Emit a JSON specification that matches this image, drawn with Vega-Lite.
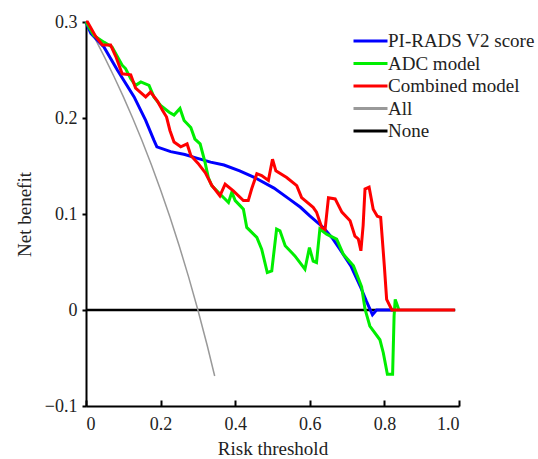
{
  "$schema": "https://vega.github.io/schema/vega-lite/v6.json",
  "autosize": "none",
  "width": 373,
  "height": 384,
  "padding": {"left": 86, "top": 22, "right": 79, "bottom": 53},
  "background": "white",
  "config": {
    "view": {"stroke": null},
    "font": "Liberation Serif",
    "axis": {
      "grid": false,
      "domainColor": "#000000",
      "domainWidth": 2,
      "tickColor": "#000000",
      "tickWidth": 2,
      "labelFont": "Liberation Serif",
      "labelFontSize": 18,
      "labelColor": "#222222",
      "titleFont": "Liberation Serif",
      "titleFontSize": 19,
      "titleFontWeight": "normal",
      "titleColor": "#222222"
    },
    "legend": {
      "orient": "none",
      "legendX": 274.5,
      "legendY": 9,
      "padding": 0,
      "symbolType": "M-2,0H2",
      "symbolSize": 289,
      "symbolStrokeWidth": 3,
      "labelFont": "Liberation Serif",
      "labelFontSize": 19,
      "labelColor": "#222222",
      "labelOffset": 7.5,
      "rowPadding": 2.5,
      "labelLimit": 300
    }
  },
  "data": {
    "values": [
      {"m": "None", "x": 0, "y": 0},
      {"m": "None", "x": 0.99, "y": 0},
      {"m": "All", "x": 0, "y": 0.3},
      {"m": "All", "x": 0.025, "y": 0.2821},
      {"m": "All", "x": 0.05, "y": 0.2632},
      {"m": "All", "x": 0.075, "y": 0.2432},
      {"m": "All", "x": 0.1, "y": 0.2222},
      {"m": "All", "x": 0.125, "y": 0.2},
      {"m": "All", "x": 0.15, "y": 0.1765},
      {"m": "All", "x": 0.175, "y": 0.1515},
      {"m": "All", "x": 0.2, "y": 0.125},
      {"m": "All", "x": 0.225, "y": 0.0968},
      {"m": "All", "x": 0.25, "y": 0.0667},
      {"m": "All", "x": 0.275, "y": 0.0345},
      {"m": "All", "x": 0.3, "y": 0},
      {"m": "All", "x": 0.325, "y": -0.037},
      {"m": "All", "x": 0.345, "y": -0.0687},
      {"m": "PI-RADS V2 score", "x": 0, "y": 0.3},
      {"m": "PI-RADS V2 score", "x": 0.013, "y": 0.288},
      {"m": "PI-RADS V2 score", "x": 0.048, "y": 0.274},
      {"m": "PI-RADS V2 score", "x": 0.084, "y": 0.25},
      {"m": "PI-RADS V2 score", "x": 0.129, "y": 0.222},
      {"m": "PI-RADS V2 score", "x": 0.16, "y": 0.1975},
      {"m": "PI-RADS V2 score", "x": 0.182, "y": 0.177},
      {"m": "PI-RADS V2 score", "x": 0.19, "y": 0.17},
      {"m": "PI-RADS V2 score", "x": 0.227, "y": 0.165},
      {"m": "PI-RADS V2 score", "x": 0.265, "y": 0.162},
      {"m": "PI-RADS V2 score", "x": 0.29, "y": 0.159},
      {"m": "PI-RADS V2 score", "x": 0.334, "y": 0.154},
      {"m": "PI-RADS V2 score", "x": 0.37, "y": 0.151},
      {"m": "PI-RADS V2 score", "x": 0.412, "y": 0.145},
      {"m": "PI-RADS V2 score", "x": 0.457, "y": 0.137},
      {"m": "PI-RADS V2 score", "x": 0.504, "y": 0.127},
      {"m": "PI-RADS V2 score", "x": 0.547, "y": 0.115},
      {"m": "PI-RADS V2 score", "x": 0.575, "y": 0.107},
      {"m": "PI-RADS V2 score", "x": 0.6, "y": 0.098},
      {"m": "PI-RADS V2 score", "x": 0.636, "y": 0.086},
      {"m": "PI-RADS V2 score", "x": 0.66, "y": 0.075},
      {"m": "PI-RADS V2 score", "x": 0.681, "y": 0.063},
      {"m": "PI-RADS V2 score", "x": 0.71, "y": 0.046},
      {"m": "PI-RADS V2 score", "x": 0.735, "y": 0.025},
      {"m": "PI-RADS V2 score", "x": 0.752, "y": 0.009},
      {"m": "PI-RADS V2 score", "x": 0.768, "y": -0.005},
      {"m": "PI-RADS V2 score", "x": 0.779, "y": 0},
      {"m": "PI-RADS V2 score", "x": 0.83, "y": 0},
      {"m": "ADC model", "x": 0, "y": 0.3},
      {"m": "ADC model", "x": 0.021, "y": 0.286},
      {"m": "ADC model", "x": 0.048, "y": 0.279},
      {"m": "ADC model", "x": 0.07, "y": 0.274},
      {"m": "ADC model", "x": 0.084, "y": 0.264},
      {"m": "ADC model", "x": 0.097, "y": 0.255},
      {"m": "ADC model", "x": 0.106, "y": 0.2515},
      {"m": "ADC model", "x": 0.12, "y": 0.241},
      {"m": "ADC model", "x": 0.133, "y": 0.234},
      {"m": "ADC model", "x": 0.147, "y": 0.2376},
      {"m": "ADC model", "x": 0.169, "y": 0.234},
      {"m": "ADC model", "x": 0.182, "y": 0.222},
      {"m": "ADC model", "x": 0.2, "y": 0.213},
      {"m": "ADC model", "x": 0.223, "y": 0.206},
      {"m": "ADC model", "x": 0.236, "y": 0.203},
      {"m": "ADC model", "x": 0.252, "y": 0.21},
      {"m": "ADC model", "x": 0.263, "y": 0.1975},
      {"m": "ADC model", "x": 0.281, "y": 0.19},
      {"m": "ADC model", "x": 0.292, "y": 0.178},
      {"m": "ADC model", "x": 0.306, "y": 0.173},
      {"m": "ADC model", "x": 0.319, "y": 0.154},
      {"m": "ADC model", "x": 0.328, "y": 0.138},
      {"m": "ADC model", "x": 0.337, "y": 0.1296},
      {"m": "ADC model", "x": 0.364, "y": 0.119},
      {"m": "ADC model", "x": 0.382, "y": 0.112},
      {"m": "ADC model", "x": 0.391, "y": 0.1227},
      {"m": "ADC model", "x": 0.4, "y": 0.114},
      {"m": "ADC model", "x": 0.413, "y": 0.1087},
      {"m": "ADC model", "x": 0.422, "y": 0.105},
      {"m": "ADC model", "x": 0.431, "y": 0.086},
      {"m": "ADC model", "x": 0.458, "y": 0.0757},
      {"m": "ADC model", "x": 0.471, "y": 0.0634},
      {"m": "ADC model", "x": 0.486, "y": 0.039},
      {"m": "ADC model", "x": 0.498, "y": 0.0408},
      {"m": "ADC model", "x": 0.511, "y": 0.0843},
      {"m": "ADC model", "x": 0.52, "y": 0.0825},
      {"m": "ADC model", "x": 0.534, "y": 0.0669},
      {"m": "ADC model", "x": 0.56, "y": 0.0564},
      {"m": "ADC model", "x": 0.587, "y": 0.0425},
      {"m": "ADC model", "x": 0.599, "y": 0.065},
      {"m": "ADC model", "x": 0.609, "y": 0.051},
      {"m": "ADC model", "x": 0.618, "y": 0.0495},
      {"m": "ADC model", "x": 0.627, "y": 0.0843},
      {"m": "ADC model", "x": 0.645, "y": 0.079},
      {"m": "ADC model", "x": 0.672, "y": 0.0739},
      {"m": "ADC model", "x": 0.69, "y": 0.058},
      {"m": "ADC model", "x": 0.717, "y": 0.046},
      {"m": "ADC model", "x": 0.739, "y": 0.024},
      {"m": "ADC model", "x": 0.748, "y": 0.001},
      {"m": "ADC model", "x": 0.761, "y": -0.0167},
      {"m": "ADC model", "x": 0.788, "y": -0.031},
      {"m": "ADC model", "x": 0.797, "y": -0.0445},
      {"m": "ADC model", "x": 0.808, "y": -0.067},
      {"m": "ADC model", "x": 0.822, "y": -0.067},
      {"m": "ADC model", "x": 0.826, "y": -0.006},
      {"m": "ADC model", "x": 0.829, "y": 0.011},
      {"m": "ADC model", "x": 0.839, "y": 0},
      {"m": "Combined model", "x": 0, "y": 0.3},
      {"m": "Combined model", "x": 0.004, "y": 0.3},
      {"m": "Combined model", "x": 0.026, "y": 0.285},
      {"m": "Combined model", "x": 0.044, "y": 0.276},
      {"m": "Combined model", "x": 0.066, "y": 0.276},
      {"m": "Combined model", "x": 0.08, "y": 0.264},
      {"m": "Combined model", "x": 0.097, "y": 0.246},
      {"m": "Combined model", "x": 0.12, "y": 0.245},
      {"m": "Combined model", "x": 0.133, "y": 0.231},
      {"m": "Combined model", "x": 0.16, "y": 0.222},
      {"m": "Combined model", "x": 0.173, "y": 0.227},
      {"m": "Combined model", "x": 0.191, "y": 0.218},
      {"m": "Combined model", "x": 0.205, "y": 0.208},
      {"m": "Combined model", "x": 0.216, "y": 0.201},
      {"m": "Combined model", "x": 0.225, "y": 0.187},
      {"m": "Combined model", "x": 0.236, "y": 0.175},
      {"m": "Combined model", "x": 0.254, "y": 0.17},
      {"m": "Combined model", "x": 0.271, "y": 0.173},
      {"m": "Combined model", "x": 0.281, "y": 0.161},
      {"m": "Combined model", "x": 0.3, "y": 0.153},
      {"m": "Combined model", "x": 0.32, "y": 0.143},
      {"m": "Combined model", "x": 0.337, "y": 0.13},
      {"m": "Combined model", "x": 0.359, "y": 0.119},
      {"m": "Combined model", "x": 0.373, "y": 0.131},
      {"m": "Combined model", "x": 0.395, "y": 0.124},
      {"m": "Combined model", "x": 0.422, "y": 0.114},
      {"m": "Combined model", "x": 0.435, "y": 0.114},
      {"m": "Combined model", "x": 0.444, "y": 0.126},
      {"m": "Combined model", "x": 0.458, "y": 0.142},
      {"m": "Combined model", "x": 0.471, "y": 0.14},
      {"m": "Combined model", "x": 0.489, "y": 0.135},
      {"m": "Combined model", "x": 0.5, "y": 0.157},
      {"m": "Combined model", "x": 0.509, "y": 0.145},
      {"m": "Combined model", "x": 0.538, "y": 0.138},
      {"m": "Combined model", "x": 0.565, "y": 0.1296},
      {"m": "Combined model", "x": 0.578, "y": 0.117},
      {"m": "Combined model", "x": 0.609, "y": 0.107},
      {"m": "Combined model", "x": 0.618, "y": 0.102},
      {"m": "Combined model", "x": 0.632, "y": 0.086},
      {"m": "Combined model", "x": 0.641, "y": 0.084},
      {"m": "Combined model", "x": 0.65, "y": 0.117},
      {"m": "Combined model", "x": 0.668, "y": 0.1157},
      {"m": "Combined model", "x": 0.686, "y": 0.102},
      {"m": "Combined model", "x": 0.708, "y": 0.093},
      {"m": "Combined model", "x": 0.721, "y": 0.077},
      {"m": "Combined model", "x": 0.73, "y": 0.074},
      {"m": "Combined model", "x": 0.737, "y": 0.0617},
      {"m": "Combined model", "x": 0.743, "y": 0.088},
      {"m": "Combined model", "x": 0.748, "y": 0.126},
      {"m": "Combined model", "x": 0.759, "y": 0.128},
      {"m": "Combined model", "x": 0.77, "y": 0.105},
      {"m": "Combined model", "x": 0.781, "y": 0.0976},
      {"m": "Combined model", "x": 0.79, "y": 0.0965},
      {"m": "Combined model", "x": 0.8, "y": 0.045},
      {"m": "Combined model", "x": 0.806, "y": 0.011},
      {"m": "Combined model", "x": 0.82, "y": 0},
      {"m": "Combined model", "x": 0.989, "y": 0}
    ]
  },
  "encoding": {
    "x": {
      "field": "x",
      "type": "quantitative",
      "scale": {"domain": [0, 1], "nice": false, "zero": false},
      "axis": {
        "title": "Risk threshold",
        "values": [0, 0.2, 0.4, 0.6, 0.8, 1.0],
        "labelExpr": "datum.value == 0 ? '0' : format(datum.value, '.1f')",
        "tickSize": -6,
        "labelPadding": 15,
        "titlePadding": 6
      }
    },
    "y": {
      "field": "y",
      "type": "quantitative",
      "scale": {"domain": [-0.1, 0.3], "nice": false, "zero": false},
      "axis": {
        "title": "Net benefit",
        "values": [-0.1, 0, 0.1, 0.2, 0.3],
        "labelExpr": "datum.value == 0 ? '0' : (datum.value < 0 ? '\u22120.1' : format(datum.value, '.1f'))",
        "tickSize": 4,
        "labelPadding": 5,
        "titlePadding": 10
      }
    },
    "color": {
      "field": "m",
      "type": "nominal",
      "scale": {
        "domain": ["PI-RADS V2 score", "ADC model", "Combined model", "All", "None"],
        "range": ["#0000ff", "#00ee00", "#ff0000", "#999999", "#000000"]
      },
      "legend": {"title": null}
    }
  },
  "layer": [
    {"transform": [{"filter": "datum.m == 'None'"}], "mark": {"type": "line", "strokeWidth": 2.5}},
    {"transform": [{"filter": "datum.m == 'All'"}], "mark": {"type": "line", "strokeWidth": 1.5}},
    {"transform": [{"filter": "datum.m == 'PI-RADS V2 score'"}], "mark": {"type": "line", "strokeWidth": 3}},
    {"transform": [{"filter": "datum.m == 'ADC model'"}], "mark": {"type": "line", "strokeWidth": 3}},
    {"transform": [{"filter": "datum.m == 'Combined model'"}], "mark": {"type": "line", "strokeWidth": 3}}
  ]
}
